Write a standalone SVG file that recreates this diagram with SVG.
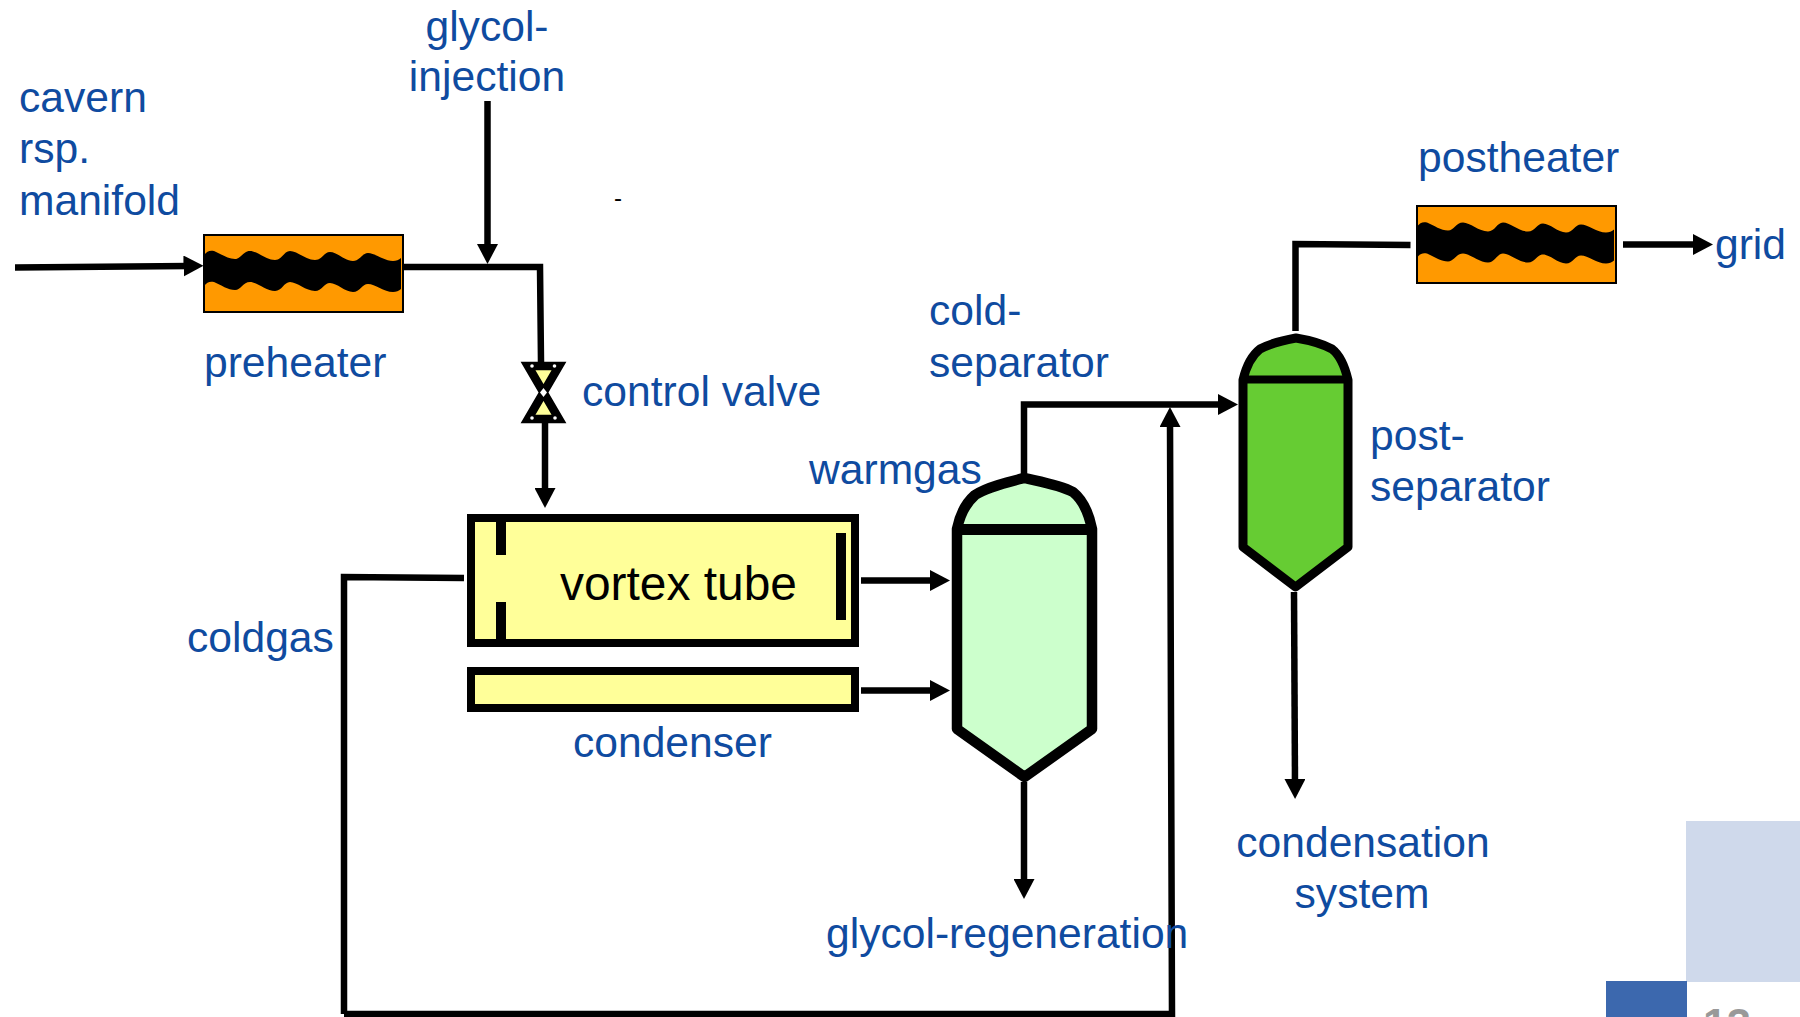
<svg xmlns="http://www.w3.org/2000/svg" xmlns:xlink="http://www.w3.org/1999/xlink" width="1800" height="1017" viewBox="0 0 1800 1017">
<style>
text{font-family:"Liberation Sans",Arial,sans-serif;font-size:42.6px;fill:#0F4BA0}
.p{fill:none;stroke:#000;stroke-width:6.5}
.v{stroke:#000;stroke-linejoin:round}
.h{fill:#FF9900;stroke:#000;stroke-width:2}
</style>
<defs>
<marker id="a" markerUnits="userSpaceOnUse" markerWidth="21" markerHeight="21" refX="5" refY="10.500" orient="auto"><path d="M0,0L20,10.500L0,21Z" fill="#000"/></marker>
<path id="w" d="M0,21C3,17 6,16 10,17C17,20 24,25 31,25C37,25 39,17 46,17C53,17 62,26 71,26C78,26 80,17 86,17C93,17 102,26 111,26C118,26 120,18 126,18C133,18 141,27 149,27C156,27 158,19 164,19C171,19 180,27 189,27C192,27 195,26 197,24L197,55C195,57 192,58 189,58C180,58 171,50 164,50C158,50 156,58 149,58C141,58 133,49 126,49C120,49 118,57 111,57C102,57 93,48 86,48C80,48 78,57 71,57C62,57 53,48 46,48C39,48 37,56 31,56C24,56 17,51 10,48C6,47 3,48 0,52Z" fill="#000"/>
</defs>
<g id="page-decor">
<rect x="1686" y="821" width="114" height="161" fill="#CFD9EB"/>
<rect x="1606" y="981" width="81" height="36" fill="#3C68AE"/>
<text x="1703" y="1038" style="font-size:43px;font-weight:bold;fill:#999999">13</text>
</g>
<g id="connectors">
<path class="p" d="M15,267.500L188.500,266" marker-end="url(#a)"/>
<path class="p" d="M487.500,101V249" marker-end="url(#a)"/>
<path class="p" d="M403,267H540L541,362"/>
<path class="p" d="M545,423V493" marker-end="url(#a)"/>
<path class="p" d="M344,1014V577L464,578"/>
<path class="p" d="M344,1014H1172L1170,422" marker-end="url(#a)"/>
<path class="p" d="M861,580.500H935" marker-end="url(#a)"/>
<path class="p" d="M861,690.500H935" marker-end="url(#a)"/>
<path class="p" d="M1024,474V404.500H1223" marker-end="url(#a)"/>
<path class="p" d="M1024,782V884" marker-end="url(#a)"/>
<path class="p" d="M1295.500,331V244L1410.500,245"/>
<path class="p" d="M1294,592L1295,784" marker-end="url(#a)"/>
<path class="p" d="M1623,244.500H1698" marker-end="url(#a)"/>
</g>
<g id="preheater"><rect class="h" x="204" y="235" width="199" height="77"/><use xlink:href="#w" href="#w" transform="translate(204,234)"/></g>
<g id="postheater"><rect class="h" x="1417" y="206" width="199" height="77"/><use xlink:href="#w" href="#w" transform="translate(1417,205.500)"/></g>
<g id="control-valve">
<path d="M528,366H559L528,419H559Z" fill="#FFFF99" stroke="#000" stroke-width="8.500" stroke-linejoin="miter"/>
<path d="M543.500,388L547,392.500L543.500,397L540,392.500Z" fill="#fff"/>
<circle cx="532" cy="366" r="1.800" fill="#fff"/><circle cx="554.500" cy="366" r="1.800" fill="#fff"/>
<circle cx="532" cy="418" r="1.800" fill="#fff"/><circle cx="555" cy="418" r="1.800" fill="#fff"/>
</g>
<g id="vortex-tube">
<rect x="471" y="518" width="384" height="125" fill="#FFFF99" stroke="#000" stroke-width="8"/>
<rect x="496" y="522" width="10" height="33"/><rect x="496" y="602" width="10" height="38"/><rect x="836" y="533" width="10" height="87"/>
<text x="560" y="600" style="font-size:47.900px;fill:#000">vortex tube</text>
</g>
<g id="condenser"><rect x="471" y="671" width="384" height="37" fill="#FFFF99" stroke="#000" stroke-width="8"/></g>
<g id="cold-separator">
<path class="v" d="M957,529C960,514 966,503 975,495C987,487 1008,482 1024.500,478C1042,482 1060,485 1073,492C1083,500 1089,514 1092,529V729L1024.500,777L957,729Z" fill="#CCFFCC" stroke-width="10.500"/>
<path d="M953,529.500H1096" stroke="#000" stroke-width="11"/>
</g>
<g id="post-separator">
<path class="v" d="M1243,380C1246,367 1251,356 1260,349C1271,343 1285,340 1296,338C1308,340 1321,343 1332,349C1341,356 1345,367 1348,380V547L1295.500,587L1243,547Z" fill="#66CC33" stroke-width="9"/>
<path d="M1240,379.500H1351" stroke="#000" stroke-width="8"/>
</g>
<g id="labels">
<text x="487" y="41" text-anchor="middle">glycol-</text>
<text x="487" y="91" text-anchor="middle">injection</text>
<text x="19" y="112">cavern</text>
<text x="19" y="163">rsp.</text>
<text x="19" y="215">manifold</text>
<text x="204" y="377">preheater</text>
<text x="582" y="406">control valve</text>
<text x="929" y="325">cold-</text>
<text x="929" y="377">separator</text>
<text x="809" y="484">warmgas</text>
<text x="187" y="652">coldgas</text>
<text x="573" y="757">condenser</text>
<text x="826" y="948">glycol-regeneration</text>
<text x="1363" y="857" text-anchor="middle">condensation</text>
<text x="1362" y="908" text-anchor="middle">system</text>
<text x="1370" y="450">post-</text>
<text x="1370" y="501">separator</text>
<text x="1418" y="172">postheater</text>
<text x="1715" y="259">grid</text>
<text x="614" y="206" style="font-size:24px;fill:#000">-</text>
</g>
</svg>
